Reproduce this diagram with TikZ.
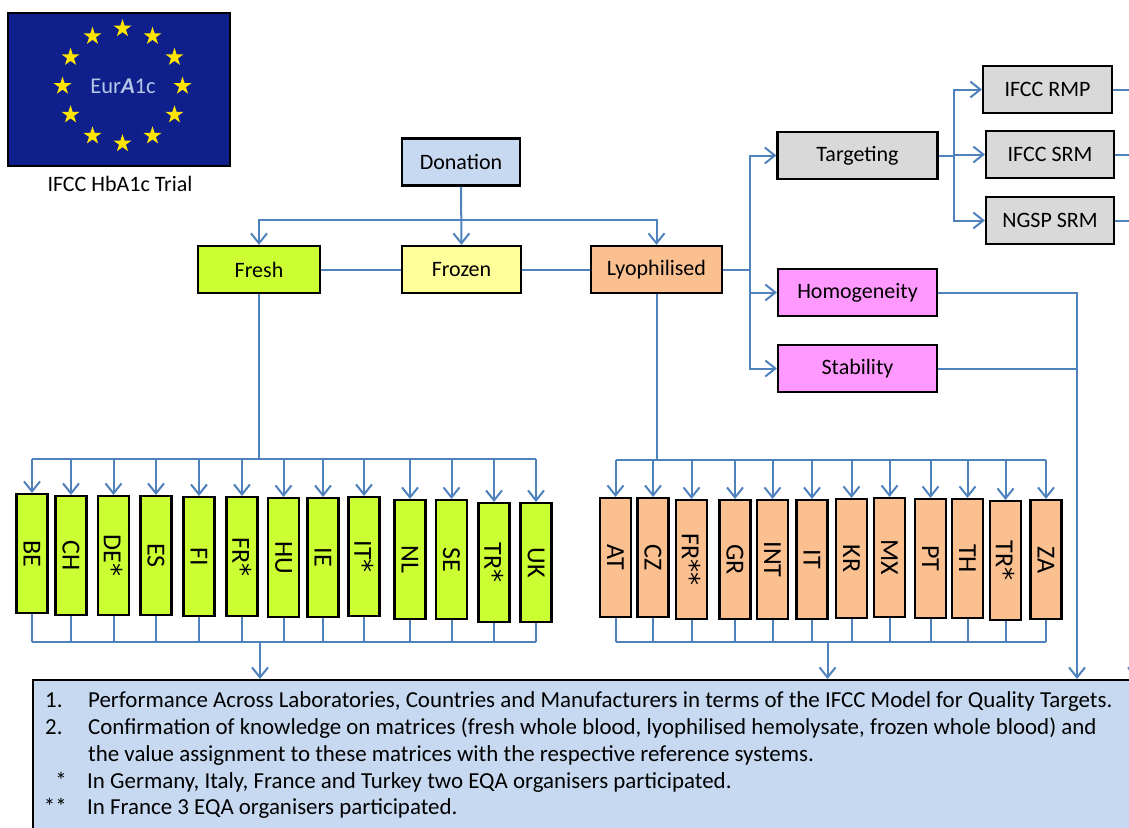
\documentclass[tikz,border=0pt]{standalone}
\usepackage{fontspec}
\setmainfont{Carlito}
\newfontfamily\astfont{DejaVu Sans}
\usepackage{graphicx}
\usetikzlibrary{shapes.geometric,arrows.meta}
\definecolor{flagblue}{HTML}{0F1F8C}
\definecolor{staryellow}{HTML}{FFE500}
\definecolor{eurtext}{HTML}{B4C7E7}
\definecolor{linkblue}{HTML}{4F81BD}
\definecolor{donfill}{HTML}{C6D9F1}
\definecolor{freshgreen}{HTML}{CCFF33}
\definecolor{frozenyellow}{HTML}{FFFF99}
\definecolor{lyofill}{HTML}{FAC090}
\definecolor{greyfill}{HTML}{D9D9D9}
\definecolor{pinkfill}{HTML}{FF99FF}
\newcommand{\bigast}{{\astfont *}}
\begin{document}
\begin{tikzpicture}[x=1pt,y=-1pt,
  box/.style={draw=black, line width=2.2pt, inner sep=0pt, minimum height=47pt, font=\fontsize{22}{26}\selectfont},
  conn/.style={draw=linkblue, line width=2pt},
  arr/.style={conn, -{Straight Barb[length=10pt,width=16pt]}},
  cbox/.style={box, minimum width=31pt, minimum height=119pt, anchor=north, font=\fontsize{26}{30}\selectfont},
  notetext/.style={inner sep=0pt, font=\fontsize{22.9}{26}\selectfont},
  flagstar/.style={star, star points=5, star point ratio=2.618, fill=staryellow, draw=none, minimum size=19pt, inner sep=0pt}
]
\useasboundingbox (0,0) rectangle (1129,827);
\clip (0,0) rectangle (1129,827);

% ---------- flag ----------
\node[draw=black, line width=2pt, fill=flagblue, minimum width=222pt, minimum height=153pt, inner sep=0pt] (flag) at (119,89.5) {};
\foreach \i in {0,...,11}
  \node[flagstar] (star\i) at ({122.5+60*cos(90+30*\i)}, {86-57.5*sin(90+30*\i)}) {};
\node[text=eurtext, font=\fontsize{22.5}{26}\selectfont, inner sep=0pt] (eur) at (123,86) {Eur\textbf{\textit{A}}1c};
\node[font=\fontsize{22}{26}\selectfont, inner sep=0pt] (trial) at (120,184) {IFCC HbA1c Trial};

% ---------- main flow ----------
\node[box, fill=donfill, minimum width=118pt] (don) at (461,162) {Donation};
\node[box, fill=freshgreen, minimum width=122pt] (fresh) at (259,269.5) {Fresh};
\node[box, fill=frozenyellow, minimum width=119pt] (froz) at (461.5,269.5) {Frozen};
\node[box, fill=lyofill, minimum width=131pt] (lyo) at (656.5,269.5) {Lyophilised};

\node[box, fill=greyfill, minimum width=160pt] (targ) at (857.5,155.5) {Targeting};
\node[box, fill=pinkfill, minimum width=159pt] (homog) at (857.5,292.5) {Homogeneity};
\node[box, fill=pinkfill, minimum width=159pt] (stab) at (857.5,368.5) {Stability};

\node[box, fill=greyfill, minimum width=129pt] (rmp) at (1047.5,89.5) {IFCC RMP};
\node[box, fill=greyfill, minimum width=128pt] (isrm) at (1050,154.5) {IFCC SRM};
\node[box, fill=greyfill, minimum width=128pt] (nsrm) at (1050,220.5) {NGSP SRM};

% connectors top
\coordinate (db) at (461,220);
\draw[arr] (don.south) -- (froz.north);
\draw[arr] (db) -| (fresh.north);
\draw[arr] (db) -| (lyo.north);
\draw[conn] (fresh.east) -- (froz.west);
\draw[conn] (froz.east) -- (lyo.west);

\coordinate (lb) at (750,269.5);
\draw[conn] (lyo.east) -- (lb);
\draw[arr] (lb) |- (targ.west);
\draw[arr] (lb) |- (homog.west);
\draw[arr] (lb) |- (stab.west);

\coordinate (tb) at (954,155.5);
\draw[conn] (targ.east) -- (tb);
\draw[arr] (tb) |- (rmp.west);
\draw[arr] (tb) |- (isrm.west);
\draw[arr] (tb) |- (nsrm.west);

% ---------- notes box ----------
\node[draw=black, line width=1.5pt, fill=donfill, anchor=north west, minimum width=1130pt, minimum height=170pt, inner sep=0pt] (notes) at (32,679) {};

% right side lines
\coordinate (hv) at (1077,0);
\coordinate (rv) at (1136,0);
\draw[arr] (homog.east) -- (homog.east -| hv) -- (notes.north -| hv);
\draw[conn] (stab.east) -- (stab.east -| hv);
\draw[conn] (rmp.east) -- (rmp.east -| rv);
\draw[conn] (isrm.east) -- (isrm.east -| rv);
\draw[conn] (nsrm.east) -- (nsrm.east -| rv);
\draw[arr] (rmp.east -| rv) -- (notes.north -| rv);

% ---------- fresh countries ----------
\foreach \n/\lab/\x/\t in {BE/BE/32/493, CH/CH/71/495, DE/DE\bigast/113.5/495, ES/ES/156/495, FI/FI/199/496, FR/FR\bigast/242/496, HU/HU/283.5/497, IE/IE/323/497, IT/IT\bigast/364/496, NL/NL/410/499, SE/SE/451.5/499, TR/TR\bigast/494/502, UK/UK/536/502}{
  \node[cbox, fill=freshgreen] (l\n) at (\x,\t) {\rotatebox{-90}{\lab}};
  \coordinate (lt\n) at (\x,459);
  \coordinate (lb\n) at (\x,642);
  \draw[arr] (lt\n) -- (l\n.north);
  \draw[conn] (l\n.south) -- (lb\n);
}
\draw[conn] (fresh.south) -- (fresh.south |- ltBE);
\draw[conn] (ltBE) -- (ltUK);
\draw[conn] (lbBE) -- (lbUK);
\coordinate (lout) at (260,642);
\draw[arr] (lout) -- (lout |- notes.north);

% ---------- lyophilised countries ----------
\foreach \n/\lab/\x/\t in {AT/AT/615.5/497, CZ/CZ/653/497, FR/FR\bigast\bigast/691.5/499, GR/GR/735/499, INT/INT/772.5/499, IT/IT/812/499, KR/KR/851.5/498, MX/MX/889.5/497, PT/PT/930.5/498, TH/TH/967.5/498, TR/TR\bigast/1005.5/500, ZA/ZA/1046/499}{
  \node[cbox, fill=lyofill] (r\n) at (\x,\t) {\rotatebox{-90}{\lab}};
  \coordinate (rt\n) at (\x,460);
  \coordinate (rb\n) at (\x,642);
  \draw[arr] (rt\n) -- (r\n.north);
  \draw[conn] (r\n.south) -- (rb\n);
}
\draw[conn] (lyo.south) -- (lyo.south |- rtAT);
\draw[conn] (rtAT) -- (rtZA);
\draw[conn] (rbAT) -- (rbZA);
\coordinate (rout) at (827.5,642);
\draw[arr] (rout) -- (rout |- notes.north);

% ---------- notes text ----------
\node[notetext, anchor=base west] (n1a) at (45,707) {1.};
\node[notetext, anchor=base west] (n1b) at (88,707) {Performance Across Laboratories, Countries and Manufacturers in terms of the IFCC Model for Quality Targets.};
\node[notetext, anchor=base west] (n2a) at (45,734) {2.};
\node[notetext, anchor=base west] (n2b) at (88,734) {Confirmation of knowledge on matrices (fresh whole blood, lyophilised hemolysate, frozen whole blood) and};
\node[notetext, anchor=base west] (n3b) at (88,761) {the value assignment to these matrices with the respective reference systems.};
\node[notetext, anchor=base east] (n4a) at (67,788) {*};
\node[notetext, anchor=base west] (n4b) at (87,788) {In Germany, Italy, France and Turkey two EQA organisers participated.};
\node[notetext, anchor=base east] (n5a) at (67,814) {**};
\node[notetext, anchor=base west] (n5b) at (87,814) {In France 3 EQA organisers participated.};
\end{tikzpicture}
\end{document}
